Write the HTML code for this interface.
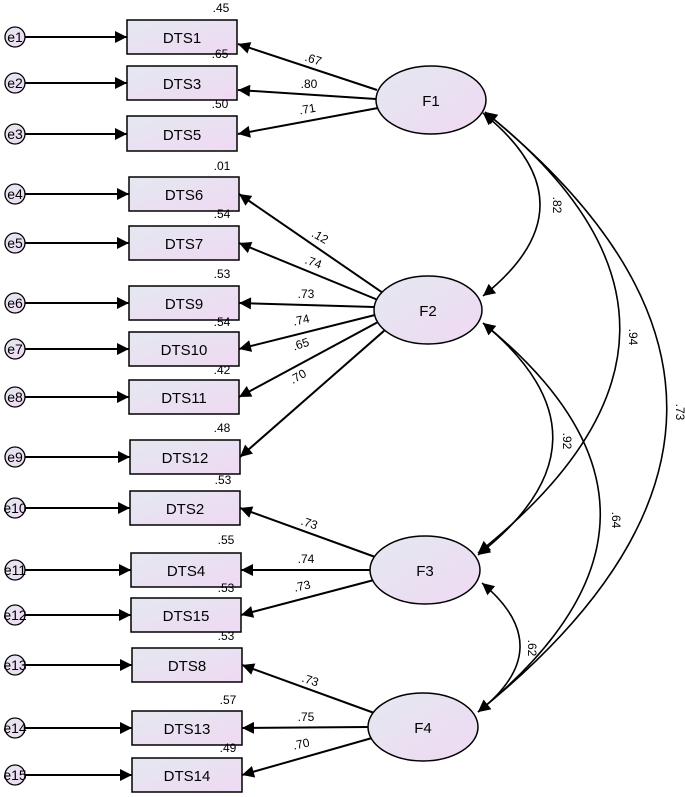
<!DOCTYPE html>
<html><head><meta charset="utf-8"><style>body{margin:0;background:#fff}svg{display:block}text{font-family:"Liberation Sans",Arial,sans-serif}</style></head><body>
<svg width="685" height="797" viewBox="0 0 685 797" xmlns="http://www.w3.org/2000/svg">
<defs>
<linearGradient id="g" x1="0" y1="0" x2="1" y2="1"><stop offset="0" stop-color="#e4e8f0"/><stop offset="1" stop-color="#efd9f3"/></linearGradient>
<marker id="a" viewBox="0 0 10 10" refX="10" refY="5" markerWidth="18" markerHeight="12" markerUnits="userSpaceOnUse" orient="auto-start-reverse"><path d="M0,0L10,5L0,10z" fill="#000"/></marker>
</defs>
<g stroke="#000" stroke-width="2" fill="none" marker-end="url(#a)">
<line x1="25" y1="37" x2="127" y2="37"/><line x1="25" y1="83" x2="127" y2="83"/><line x1="25" y1="134" x2="127" y2="134"/>
<line x1="25" y1="194" x2="129" y2="194"/><line x1="25" y1="243" x2="129" y2="243"/><line x1="25" y1="303" x2="129" y2="303"/>
<line x1="25" y1="349" x2="129" y2="349"/><line x1="25" y1="397" x2="129" y2="397"/><line x1="25" y1="457" x2="130" y2="457"/>
<line x1="25" y1="508" x2="130" y2="508"/><line x1="25" y1="570" x2="131" y2="570"/><line x1="25" y1="615" x2="131" y2="615"/>
<line x1="25" y1="665" x2="132" y2="665"/><line x1="25" y1="728" x2="132" y2="728"/><line x1="25" y1="775" x2="132" y2="775"/>
<line x1="377" y1="90" x2="238" y2="44"/><line x1="376" y1="99" x2="238" y2="90"/><line x1="378" y1="108" x2="238" y2="134"/>
<line x1="383" y1="293" x2="239" y2="194"/><line x1="378" y1="300" x2="239" y2="243"/><line x1="374" y1="307" x2="239" y2="303"/>
<line x1="375" y1="315" x2="239" y2="349"/><line x1="378" y1="322" x2="239" y2="397"/><line x1="385" y1="330" x2="240" y2="457"/>
<line x1="378" y1="558" x2="240" y2="508"/><line x1="370" y1="570" x2="241" y2="570"/><line x1="374" y1="580" x2="241" y2="615"/>
<line x1="377" y1="714" x2="242" y2="665"/><line x1="368" y1="727" x2="242" y2="728"/><line x1="372" y1="738" x2="242" y2="775"/>
</g>
<g stroke="#000" stroke-width="1.6" fill="none" marker-start="url(#a)" marker-end="url(#a)">
<path d="M483,113 Q597,205 483,296"/>
<path d="M485,112 Q758,330 478,553"/>
<path d="M485,112 Q852,410 478,712"/>
<path d="M483,323 Q625,440 478,555"/>
<path d="M483,323 Q720,515 478,712"/>
<path d="M482,583 Q560,648 478,712"/>
</g>
<g stroke="#000" stroke-width="1.5" fill="url(#g)">
<rect x="127" y="20" width="110" height="34"/><rect x="127" y="66" width="110" height="34"/><rect x="127" y="116" width="110" height="35"/>
<rect x="129" y="177" width="110" height="34"/><rect x="129" y="226" width="110" height="34"/><rect x="129" y="286" width="110" height="34"/>
<rect x="129" y="332" width="110" height="34"/><rect x="129" y="380" width="110" height="34"/><rect x="130" y="440" width="110" height="34"/>
<rect x="130" y="491" width="110" height="34"/><rect x="131" y="553" width="110" height="34"/><rect x="131" y="598" width="110" height="34"/>
<rect x="132" y="648" width="110" height="34"/><rect x="132" y="711" width="110" height="34"/><rect x="132" y="758" width="110" height="34"/>
<ellipse cx="431" cy="100" rx="55" ry="34"/><ellipse cx="428" cy="310" rx="54" ry="34"/><ellipse cx="425" cy="570" rx="55" ry="34"/><ellipse cx="423" cy="727" rx="55" ry="34"/>
<g stroke-width="1.3"><circle cx="15" cy="37" r="10"/><circle cx="15" cy="83" r="10"/><circle cx="15" cy="134" r="10"/><circle cx="15" cy="194" r="10"/><circle cx="15" cy="243" r="10"/><circle cx="15" cy="303" r="10"/><circle cx="15" cy="349" r="10"/><circle cx="15" cy="397" r="10"/><circle cx="15" cy="457" r="10"/><circle cx="15" cy="508" r="10"/><circle cx="15" cy="570" r="10"/><circle cx="15" cy="615" r="10"/><circle cx="15" cy="665" r="10"/><circle cx="15" cy="728" r="10"/><circle cx="15" cy="775" r="10"/></g>
</g>
<g font-size="15" text-anchor="middle">
<text x="182" y="43">DTS1</text><text x="182" y="89">DTS3</text><text x="182" y="140">DTS5</text>
<text x="184" y="200">DTS6</text><text x="184" y="249">DTS7</text><text x="184" y="309">DTS9</text>
<text x="184" y="355">DTS10</text><text x="184" y="403">DTS11</text><text x="185" y="463">DTS12</text>
<text x="185" y="514">DTS2</text><text x="186" y="576">DTS4</text><text x="186" y="621">DTS15</text>
<text x="187" y="671">DTS8</text><text x="187" y="734">DTS13</text><text x="187" y="781">DTS14</text>
<text x="431" y="106">F1</text><text x="428" y="316">F2</text><text x="425" y="576">F3</text><text x="423" y="733">F4</text>
</g>
<g font-size="14" text-anchor="middle">
<text x="15" y="42">e1</text><text x="15" y="88">e2</text><text x="15" y="139">e3</text><text x="15" y="199">e4</text><text x="15" y="248">e5</text><text x="15" y="308">e6</text><text x="15" y="354">e7</text><text x="15" y="402">e8</text><text x="15" y="462">e9</text><text x="15" y="513">e10</text><text x="15" y="575">e11</text><text x="15" y="620">e12</text><text x="15" y="670">e13</text><text x="15" y="733">e14</text><text x="15" y="780">e15</text>
</g>
<g font-size="12" text-anchor="middle">
<text x="221" y="12">.45</text><text x="220" y="58">.65</text><text x="220" y="108">.50</text><text x="222" y="170">.01</text><text x="222" y="218">.54</text><text x="222" y="278">.53</text><text x="222" y="326">.54</text><text x="222" y="374">.42</text><text x="222" y="432">.48</text><text x="223" y="484">.53</text><text x="226" y="544">.55</text><text x="226" y="592">.53</text><text x="226" y="640">.53</text><text x="228" y="704">.57</text><text x="228" y="752">.49</text>
<text x="312" y="63" transform="rotate(18 312 63)">.67</text><text x="309" y="88">.80</text><text x="308" y="113" transform="rotate(-10 308 113)">.71</text>
<text x="318" y="240" transform="rotate(30 318 240)">.12</text><text x="312" y="266" transform="rotate(20 312 266)">.74</text><text x="306" y="298">.73</text><text x="302" y="324" transform="rotate(-12 302 324)">.74</text><text x="302" y="348" transform="rotate(-18 302 348)">.65</text><text x="300" y="380" transform="rotate(-30 300 380)">.70</text>
<text x="308" y="527" transform="rotate(18 308 527)">.73</text><text x="306" y="563">.74</text><text x="303" y="590" transform="rotate(-12 303 590)">.73</text>
<text x="309" y="684" transform="rotate(18 309 684)">.73</text><text x="306" y="721">.75</text><text x="302" y="748" transform="rotate(-12 302 748)">.70</text>
<text x="553" y="205" transform="rotate(90 553 205)">.82</text><text x="629" y="337" transform="rotate(90 629 337)">.94</text><text x="676" y="412" transform="rotate(90 676 412)">.73</text><text x="563" y="441" transform="rotate(90 563 441)">.92</text><text x="612" y="520" transform="rotate(90 612 520)">.64</text><text x="528" y="648" transform="rotate(90 528 648)">.62</text>
</g>
</svg>
</body></html>
